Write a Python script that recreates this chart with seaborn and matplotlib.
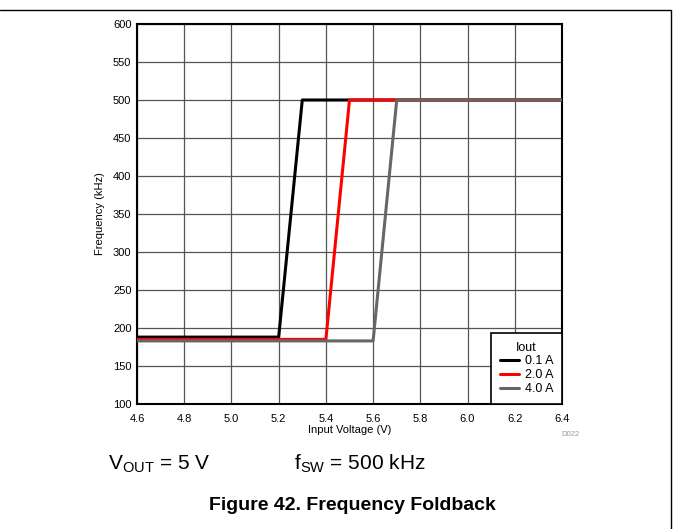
import matplotlib
matplotlib.use("Agg")
import matplotlib.pyplot as plt
import seaborn as sns
import pandas as pd
from matplotlib.lines import Line2D

sns.set_theme(style="white")
plt.rcParams['font.family'] = ['Liberation Sans', 'DejaVu Sans']
plt.rcParams['text.color'] = 'black'
plt.rcParams['axes.labelcolor'] = 'black'

# Data
vin_01 = [4.6, 5.2, 5.3, 6.4]
freq_01 = [188, 188, 500, 500]
vin_20 = [4.6, 5.4, 5.5, 6.4]
freq_20 = [185, 185, 500, 500]
vin_40 = [4.6, 5.6, 5.7, 6.4]
freq_40 = [183, 183, 500, 500]
series_labels = ["0.1 A", "2.0 A", "4.0 A"]
series_colors = ["#000000", "#ff0000", "#666666"]
x_ticks = [4.6, 4.8, 5.0, 5.2, 5.4, 5.6, 5.8, 6.0, 6.2, 6.4]
y_ticks = [100, 150, 200, 250, 300, 350, 400, 450, 500, 550, 600]

rows = []
for lab, xs, ys in zip(series_labels, [vin_01, vin_20, vin_40], [freq_01, freq_20, freq_40]):
    for x, y in zip(xs, ys):
        rows.append({"Vin": x, "Freq": y, "Iout": lab})
df = pd.DataFrame(rows)

fig = plt.figure(figsize=(6.73, 5.29), dpi=100)
ax = fig.add_axes([137/673, 1-404/529, (562-137)/673, (404-24)/529])

sns.lineplot(data=df, x="Vin", y="Freq", hue="Iout", palette=dict(zip(series_labels, series_colors)),
             linewidth=2.2, ax=ax, legend=False, sort=False, estimator=None, zorder=3)

ax.set_xlim(4.6, 6.4)
ax.set_ylim(100, 600)
ax.set_xticks(x_ticks)
ax.set_xticklabels([f"{v:.1f}" for v in x_ticks])
ax.set_yticks(y_ticks)
ax.set_yticklabels([str(v) for v in y_ticks])
ax.tick_params(axis='both', labelsize=8, colors='black', length=0)
ax.tick_params(axis='x', pad=7)
ax.tick_params(axis='y', pad=4)
ax.grid(True, color='#555555', linewidth=0.9)
for s in ax.spines.values():
    s.set_color('black')
    s.set_linewidth(1.5)
ax.set_xlabel("Input Voltage (V)", fontsize=8, labelpad=1)
ax.set_ylabel("Frequency (kHz)", fontsize=8, labelpad=6)

handles = [Line2D([0], [0], color=c, lw=2.2) for c in series_colors]
leg = ax.legend(handles, series_labels, title="Iout", loc="lower right", fontsize=9,
                title_fontsize=9, frameon=True, fancybox=False, framealpha=1,
                edgecolor='black', borderaxespad=0, handlelength=1.5, handletextpad=0.5,
                labelspacing=0.15, borderpad=0.7)
leg.get_frame().set_linewidth(1.2)

fig.text(580/673, 1-435/529, "D022", fontsize=5.5, color='#999999', ha='right', va='center')
fig.text(108/673, 1-464/529, r"V$_{\mathregular{OUT}}$ = 5 V", fontsize=15, ha='left', va='center')
fig.text(294/673, 1-464/529, r"f$_{\mathregular{SW}}$ = 500 kHz", fontsize=15, ha='left', va='center')
fig.text(352/673, 1-505/529, "Figure 42. Frequency Foldback", fontsize=14, fontweight='bold',
         ha='center', va='center')

# figure frame lines (top and right)
fig.add_artist(Line2D([0, 671/673], [1-10/529, 1-10/529], transform=fig.transFigure, color='black', lw=1))
fig.add_artist(Line2D([671/673, 671/673], [1-10/529, 0], transform=fig.transFigure, color='black', lw=1))

fig.savefig("out.png", dpi=100)
